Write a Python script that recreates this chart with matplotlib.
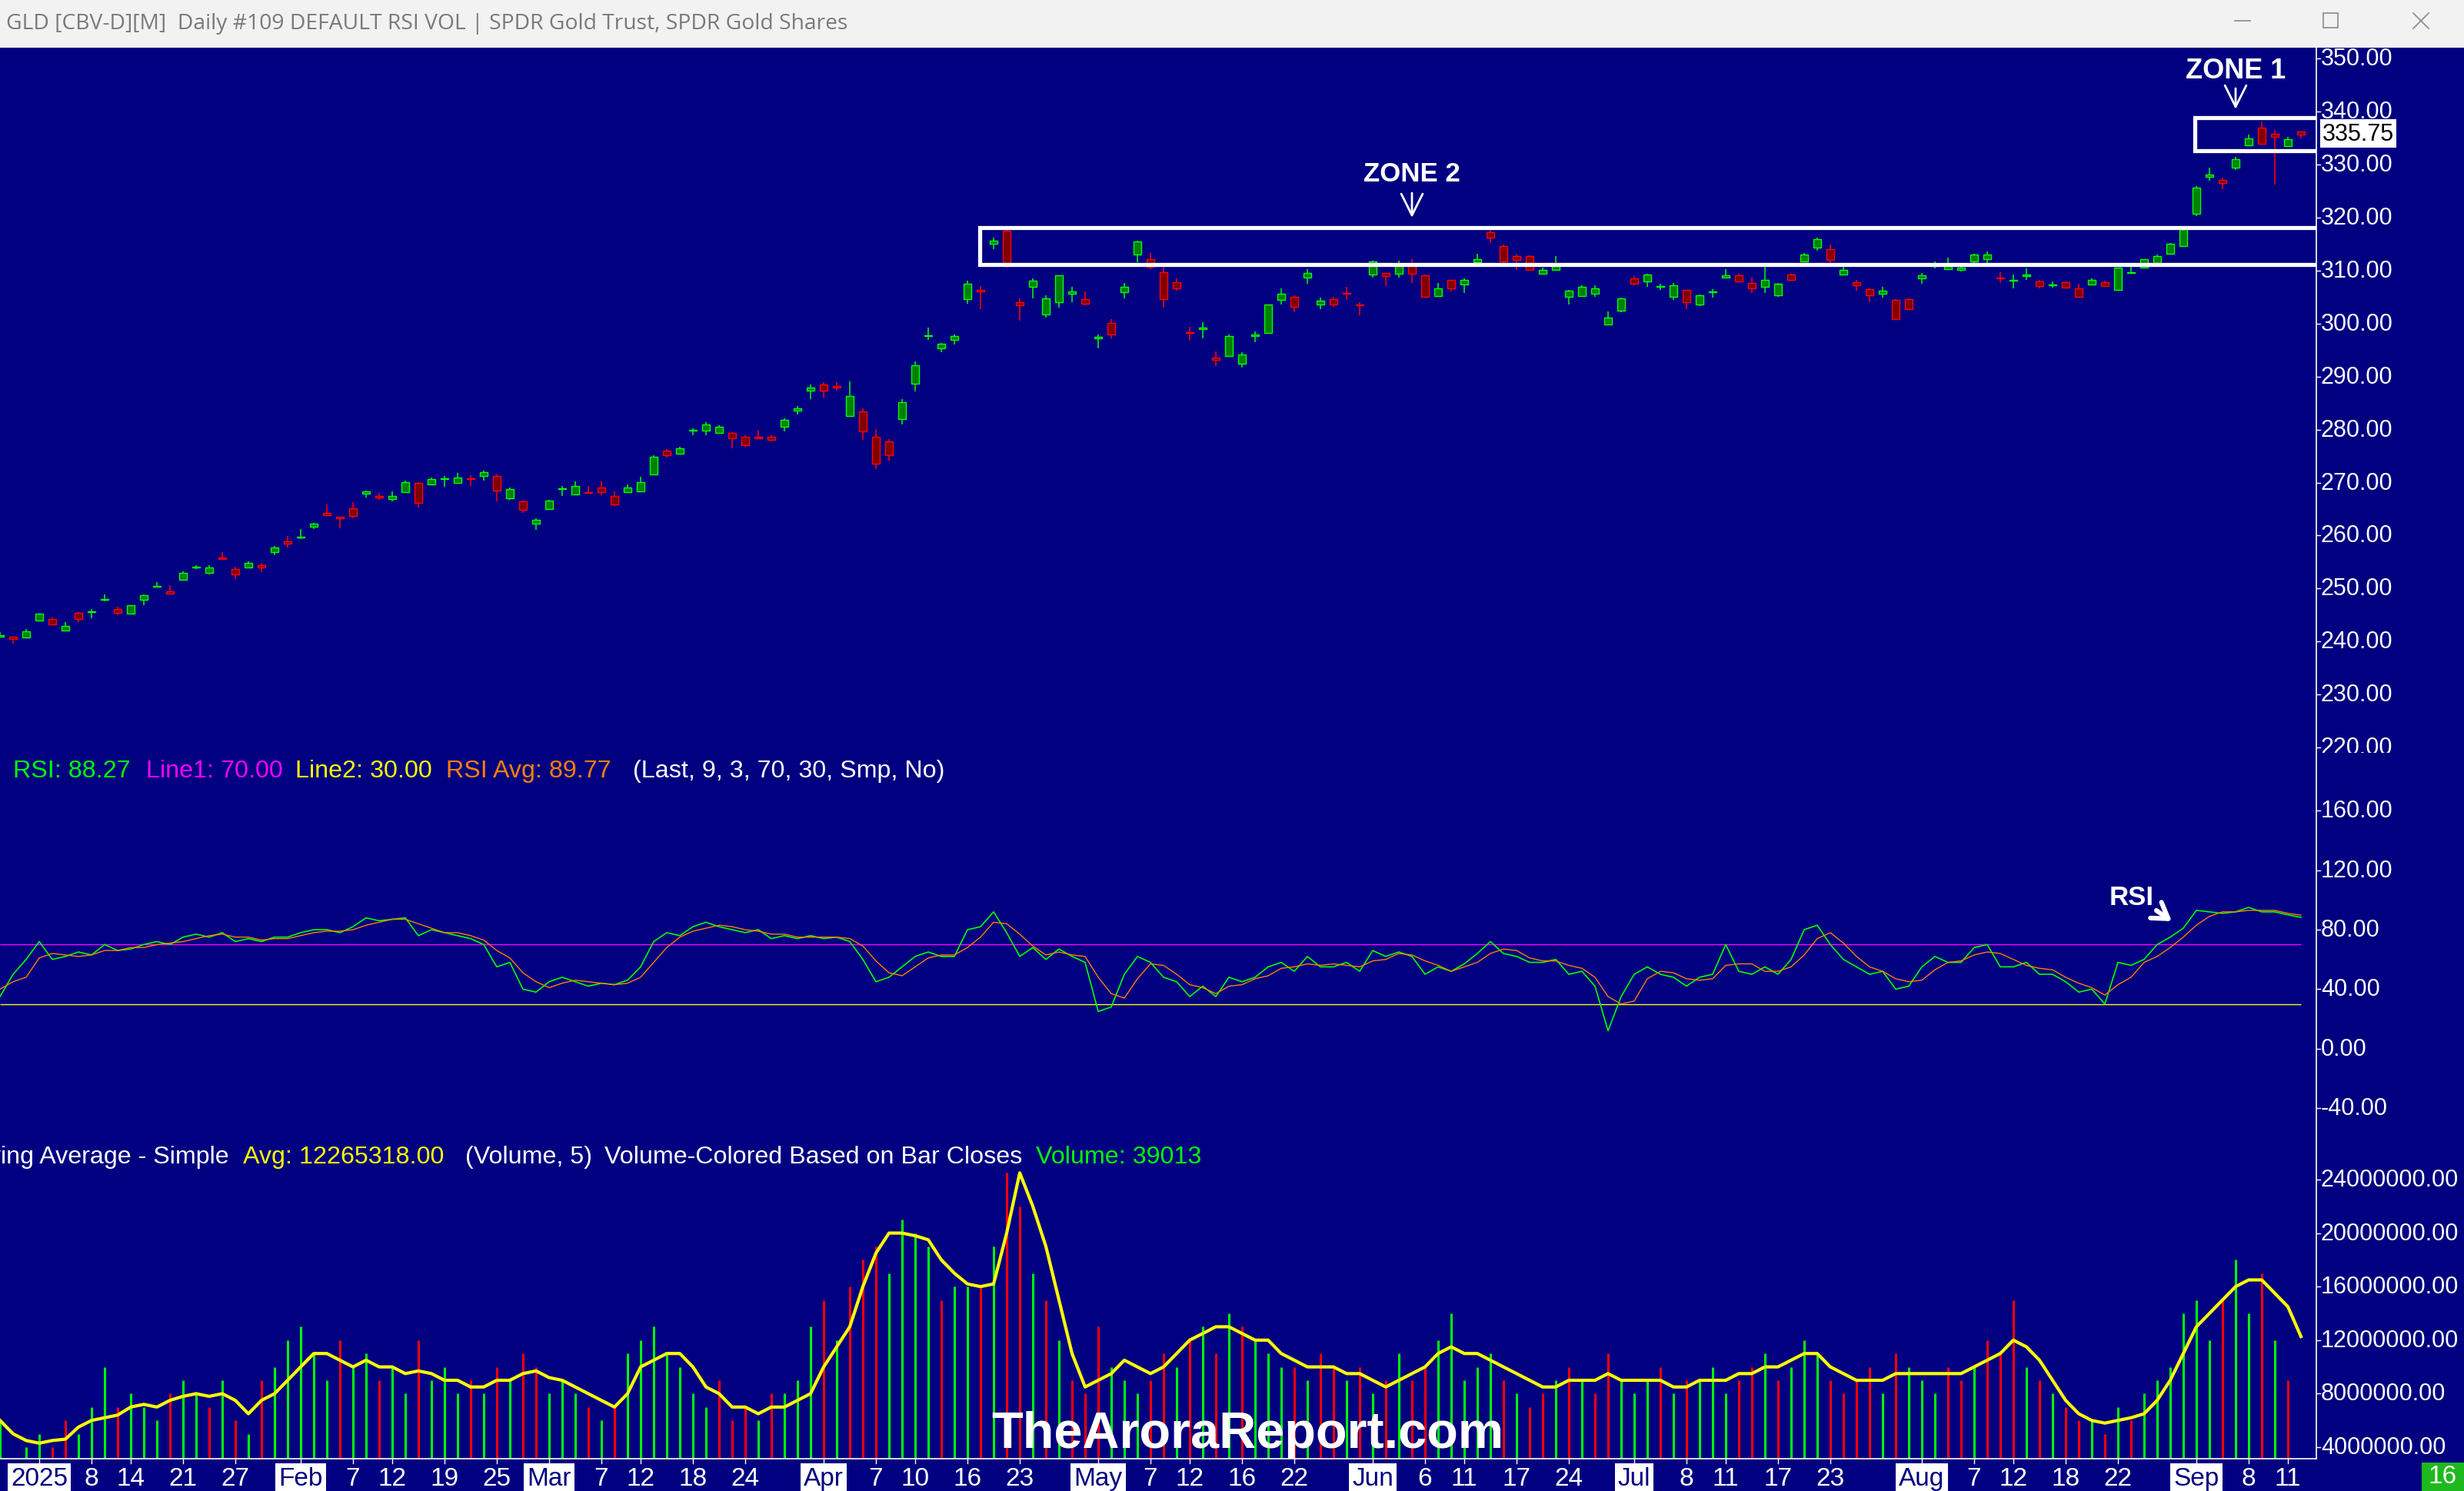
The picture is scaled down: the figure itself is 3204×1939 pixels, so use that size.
import numpy as np
import pandas as pd
import matplotlib
matplotlib.use("Agg")
import matplotlib.pyplot as plt
from matplotlib.patches import Rectangle, FancyArrowPatch
from matplotlib.lines import Line2D

W, H, DPI = 3204, 1940, 200

# ---------------- data ----------------
holidays = ["2025-01-01", "2025-01-09", "2025-01-20", "2025-02-17", "2025-04-18",
            "2025-05-26", "2025-06-19", "2025-07-04", "2025-09-01"]
dates = pd.bdate_range("2024-12-27", "2025-09-12")
dates = dates[~dates.isin(pd.to_datetime(holidays))]

open_ = [240.9, 240.9, 240.8, 244.0, 244.3, 242.1, 245.4, 245.5, 247.9, 246.1,
         245.3, 247.9, 250.3, 249.5, 251.7, 254.0, 253.0, 255.8, 253.7, 254.0,
         254.4, 256.9, 258.9, 259.6, 261.6, 264.2, 263.5, 265.1, 267.9, 267.5,
         266.9, 268.2, 269.9, 269.6, 270.6, 270.0, 270.7, 271.3, 271.3, 267.0,
         266.4, 262.3, 265.0, 268.8, 267.8, 268.2, 269.0, 267.4, 268.2, 268.3,
         271.5, 276.1, 275.4, 279.8, 279.8, 279.3, 279.3, 278.7, 278.6, 278.7,
         280.5, 283.6, 287.4, 288.5, 288.2, 282.6, 283.5, 278.7, 277.7, 282.0,
         288.7, 297.7, 295.4, 296.9, 304.6, 306.3, 315.0, 317.5, 304.1, 306.9,
         301.7, 304.1, 305.7, 304.6, 297.2, 300.1, 305.9, 313.1, 312.1, 309.7,
         307.8, 298.4, 298.9, 293.6, 293.9, 292.5, 297.7, 298.3, 304.5, 305.0,
         308.7, 303.6, 304.6, 305.7, 303.6, 309.2, 309.5, 309.4, 311.1, 309.1,
         305.2, 308.2, 307.4, 311.6, 317.2, 314.7, 312.7, 312.8, 309.4, 310.2,
         305.0, 305.2, 305.7, 299.9, 302.4, 308.5, 308.0, 306.9, 305.0, 306.3,
         303.6, 305.9, 308.7, 309.1, 307.6, 307.0, 305.3, 309.2, 311.8, 314.4,
         314.0, 309.2, 307.8, 306.5, 305.7, 304.5, 304.6, 308.6, 310.8, 310.3,
         310.2, 311.7, 312.2, 308.7, 308.1, 309.0, 307.9, 307.2, 307.8, 306.7,
         307.4, 307.8, 306.4, 309.6, 310.5, 311.4, 313.2, 314.7, 320.8, 327.7,
         327.1, 329.5, 333.7, 337.0, 335.8, 333.5, 336.2]
high = [241.8, 240.9, 242.4, 245.3, 244.6, 243.6, 245.5, 246.2, 248.9, 246.6,
        246.9, 248.9, 251.2, 250.7, 253.3, 254.4, 254.4, 256.9, 254.1, 255.1,
        254.7, 258.1, 259.9, 261.2, 262.4, 265.9, 263.6, 266.3, 268.5, 268.1,
        268.4, 270.3, 270.1, 271.0, 271.2, 271.8, 271.4, 272.2, 271.5, 269.0,
        266.6, 263.3, 266.7, 269.3, 270.2, 269.3, 270.2, 268.3, 269.7, 271.1,
        275.1, 276.3, 276.8, 280.3, 281.4, 280.8, 279.5, 278.9, 280.0, 278.9,
        282.1, 284.5, 288.5, 289.0, 288.9, 289.1, 284.0, 280.1, 278.2, 285.7,
        292.9, 299.2, 296.4, 297.9, 308.1, 307.1, 316.3, 317.8, 304.7, 308.5,
        305.3, 309.1, 307.0, 306.1, 297.9, 300.9, 307.6, 315.6, 313.3, 310.7,
        308.5, 299.4, 300.3, 294.7, 297.9, 294.6, 298.5, 303.6, 306.6, 305.3,
        310.3, 304.9, 305.1, 306.9, 304.0, 311.9, 309.6, 311.9, 312.2, 309.2,
        307.6, 308.3, 308.6, 313.2, 317.7, 314.9, 313.1, 312.9, 310.6, 312.7,
        306.3, 307.3, 307.2, 302.3, 304.9, 309.0, 309.4, 307.5, 307.7, 306.4,
        305.5, 306.5, 310.3, 309.4, 308.7, 310.8, 307.6, 309.4, 313.3, 316.2,
        314.9, 310.8, 308.2, 306.7, 307.0, 304.6, 304.7, 309.6, 311.8, 312.4,
        311.0, 313.2, 313.6, 309.7, 309.3, 310.4, 308.3, 308.0, 308.0, 307.5,
        308.5, 308.1, 310.6, 310.8, 312.2, 313.0, 315.2, 318.2, 325.9, 329.4,
        327.5, 331.5, 335.7, 338.2, 336.5, 335.2, 336.3]
low = [240.8, 239.6, 240.8, 244.0, 243.3, 241.9, 243.7, 244.4, 247.6, 245.0,
       245.3, 246.9, 250.2, 249.1, 251.7, 253.7, 252.7, 255.4, 251.8, 253.9,
       253.1, 256.3, 257.8, 259.4, 261.2, 263.9, 261.4, 263.2, 267.2, 266.8,
       266.4, 268.2, 265.3, 269.5, 269.2, 270.0, 269.4, 270.3, 266.4, 266.7,
       264.3, 261.1, 264.9, 267.5, 267.8, 268.1, 267.6, 265.6, 268.2, 268.3,
       271.4, 274.7, 275.4, 279.0, 279.0, 279.2, 276.5, 276.8, 278.2, 277.8,
       279.6, 282.9, 285.8, 286.0, 287.4, 282.4, 278.0, 272.6, 274.2, 281.0,
       287.2, 296.9, 294.6, 296.0, 303.8, 302.8, 314.0, 310.5, 300.6, 304.7,
       301.1, 303.0, 304.1, 303.5, 295.4, 297.2, 304.7, 311.6, 310.3, 303.0,
       306.2, 296.8, 297.2, 292.0, 293.8, 291.7, 296.5, 298.2, 303.6, 302.2,
       307.5, 302.8, 303.1, 304.5, 301.5, 308.7, 307.1, 308.7, 307.6, 305.0,
       305.1, 306.0, 305.8, 311.5, 315.2, 311.5, 310.2, 310.1, 309.2, 310.1,
       303.6, 305.1, 305.0, 299.8, 302.1, 307.3, 306.9, 306.3, 304.5, 302.8,
       303.3, 304.9, 308.6, 307.8, 305.8, 305.8, 305.1, 308.2, 311.7, 313.7,
       311.5, 309.1, 306.2, 304.0, 304.9, 300.8, 302.7, 307.5, 310.4, 310.2,
       309.9, 311.5, 311.4, 307.6, 306.6, 308.2, 306.6, 306.8, 306.7, 305.0,
       307.3, 307.0, 306.3, 309.5, 310.4, 311.3, 313.1, 314.5, 320.3, 326.9,
       325.4, 329.0, 333.5, 334.0, 326.3, 333.3, 335.0]
close = [241.2, 240.4, 241.9, 245.2, 243.3, 243.0, 244.3, 245.6, 248.0, 245.4,
         246.8, 248.7, 250.4, 249.1, 252.9, 254.1, 253.9, 255.5, 252.7, 254.9,
         254.0, 257.8, 258.4, 259.7, 262.3, 263.9, 263.2, 263.7, 268.4, 267.2,
         267.5, 270.1, 266.1, 270.6, 270.7, 270.9, 270.6, 272.0, 268.5, 268.8,
         264.8, 263.0, 266.6, 268.9, 269.4, 268.1, 268.2, 265.8, 269.0, 270.1,
         274.9, 275.1, 276.5, 279.9, 281.0, 280.6, 278.3, 277.1, 278.3, 278.1,
         281.8, 284.0, 288.0, 287.4, 288.0, 286.3, 279.6, 273.5, 275.1, 285.2,
         292.2, 297.8, 296.2, 297.7, 307.5, 306.0, 315.6, 311.4, 303.5, 308.1,
         304.7, 309.1, 306.0, 303.8, 297.5, 297.9, 306.9, 315.5, 310.7, 304.6,
         306.7, 298.2, 299.3, 293.1, 297.7, 294.1, 297.9, 303.6, 305.7, 303.1,
         309.6, 304.4, 303.6, 305.6, 303.5, 311.7, 309.0, 311.1, 309.4, 305.1,
         306.6, 306.6, 308.3, 312.1, 316.3, 311.7, 312.0, 310.2, 310.1, 310.8,
         306.2, 307.0, 306.7, 301.1, 304.7, 307.5, 309.2, 307.0, 307.3, 304.1,
         305.4, 306.1, 309.1, 307.9, 306.7, 308.2, 307.5, 308.3, 313.1, 316.0,
         312.0, 310.2, 307.3, 305.3, 306.2, 300.9, 302.8, 309.1, 311.1, 310.8,
         310.6, 313.1, 313.0, 308.5, 308.2, 309.3, 307.1, 307.3, 306.8, 305.1,
         308.3, 307.1, 310.5, 309.7, 312.1, 312.7, 315.0, 317.9, 325.6, 328.1,
         326.6, 331.1, 334.9, 334.0, 335.3, 334.8, 335.75]

rsi = [35, 50, 60, 72, 60, 62, 65, 63, 70, 66,
       67, 70, 72, 70, 75, 77, 75, 78, 72, 74,
       72, 75, 75, 78, 80, 80, 78, 82, 88, 86,
       87, 88, 76, 80, 78, 76, 74, 70, 55, 58,
       40, 38, 45, 48, 45, 42, 44, 43, 46, 55,
       72, 78, 76, 82, 85, 82, 80, 78, 80, 74,
       76, 74, 76, 74, 75, 72, 60, 45, 48, 55,
       62, 65, 62, 62, 80, 82, 92, 78, 62, 68,
       60, 67, 62, 58, 25, 28, 50, 62, 58, 48,
       45, 35, 42, 35, 48, 45, 48, 55, 58, 52,
       62, 55, 55, 58, 52, 66, 62, 65, 62, 50,
       55, 52, 57, 64, 72, 64, 62, 58, 58, 60,
       50, 52, 42, 12, 35, 50, 55, 50, 48, 42,
       48, 50, 70, 52, 50, 55, 50, 60, 80, 83,
       70, 60, 55, 50, 52, 40, 42, 55, 62, 58,
       58, 68, 70, 55, 55, 58, 50, 50, 45, 38,
       40, 30, 58, 56, 60, 70, 75, 81, 93, 92,
       91, 92, 95, 92, 92, 90, 88.27]
rsi_avg = [40, 45, 48, 61, 64, 63, 62, 63, 66, 66,
           68, 68, 70, 71, 72, 74, 76, 77, 75, 75,
           73, 74, 74, 76, 78, 79, 79, 80, 83, 85,
           87, 87, 84, 81, 78, 78, 76, 73, 66, 61,
           51, 45, 41, 44, 46, 45, 44, 43, 44, 48,
           58, 68, 75, 79, 81, 83, 82, 80, 79, 77,
           77, 75, 75, 75, 75, 74, 69, 59, 51, 49,
           55, 61, 63, 63, 68, 75, 85, 84, 77, 69,
           63, 65, 63, 62, 48, 37, 34, 47, 57, 56,
           50, 43, 41, 37, 42, 43, 47, 49, 54, 55,
           57, 56, 57, 56, 55, 59, 60, 64, 63, 59,
           56, 52, 55, 58, 64, 67, 66, 61, 59, 59,
           56, 54, 48, 35, 30, 32, 47, 52, 51, 47,
           46, 47, 56, 57, 57, 52, 52, 55, 63, 74,
           78, 71, 62, 55, 52, 47, 45, 46, 53, 58,
           59, 63, 65, 64, 60, 56, 54, 53, 48, 44,
           41, 36, 43, 48, 58, 62, 68, 75, 83, 89,
           92, 92, 93, 93, 93, 91, 89.77]

volume_m = [6, 3, 4, 5, 4, 6, 5, 7, 10, 7,
            8, 7, 6, 8, 9, 8, 7, 9, 6, 5,
            9, 10, 12, 13, 11, 9, 12, 10, 11, 9,
            10, 8, 12, 9, 10, 8, 9, 8, 10, 9,
            11, 10, 8, 9, 8, 7, 6, 7, 11, 12,
            13, 11, 10, 8, 7, 9, 6, 7, 6, 8,
            8, 9, 13, 15, 12, 16, 18, 19, 17, 21,
            20, 19, 15, 16, 16, 16, 19, 24.5, 22, 17,
            15, 12, 9, 8, 13, 10, 9, 8, 9, 11,
            10, 12, 13, 11, 14, 13, 12, 11, 10, 10,
            9, 11, 10, 9, 10, 8, 9, 11, 9, 10,
            12, 14, 9, 10, 11, 9, 8, 7, 8, 9,
            10, 9, 8, 11, 9, 8, 9, 10, 8, 9,
            9, 10, 8, 9, 10, 11, 9, 10, 12, 11,
            9, 8, 9, 10, 8, 11, 10, 9, 8, 10,
            9, 10, 12, 11, 15, 10, 9, 8, 7, 6,
            6, 5, 7, 6, 8, 9, 10, 14, 15, 12,
            15, 18, 14, 17, 12, 9, 0.039]
vol_ma_m = [6, 5, 4.5, 4.3, 4.5, 4.6, 5.5, 6, 6.2, 6.4,
            7, 7.2, 7, 7.5, 7.8, 8, 7.8, 8, 7.5, 6.5,
            7.5, 8, 9, 10, 11, 11, 10.5, 10, 10.5, 10,
            10, 9.5, 9.7, 9.5, 9, 9, 8.5, 8.5, 9, 9,
            9.5, 9.7, 9.2, 9, 8.5, 8, 7.5, 7, 8, 10,
            10.5, 11, 11, 10, 8.5, 8, 7, 7, 6.5, 7,
            7, 7.5, 8, 10, 11.5, 13, 16, 18.5, 20, 20,
            19.8, 19.5, 18, 17, 16.2, 16, 16.2, 20, 24.5, 22,
            19, 15, 11, 8.5, 9, 9.5, 10.5, 10, 9.5, 10,
            11, 12, 12.5, 13, 13, 12.5, 12, 12, 11, 10.5,
            10, 10, 10, 9.5, 9.5, 9, 8.5, 9, 9.5, 10,
            11, 11.5, 11, 11, 10.5, 10, 9.5, 9, 8.5, 8.5,
            9, 9, 9, 9.5, 9, 9, 9, 9, 8.5, 8.5,
            9, 9, 9, 9.5, 9.5, 10, 10, 10.5, 11, 11,
            10, 9.5, 9, 9, 9, 9.5, 9.5, 9.5, 9.5, 9.5,
            9.5, 10, 10.5, 11, 12, 11.5, 10.5, 9, 7.5, 6.5,
            6, 5.8, 6, 6.2, 6.5, 7.5, 9, 11, 13, 14,
            15, 16, 16.5, 16.5, 15.5, 14.5, 12.27]

tick_dates = ["2025-01-02", "2025-01-08", "2025-01-14", "2025-01-21", "2025-01-27",
              "2025-02-03", "2025-02-07", "2025-02-12", "2025-02-19", "2025-02-25",
              "2025-03-03", "2025-03-07", "2025-03-12", "2025-03-18", "2025-03-24",
              "2025-04-01", "2025-04-07", "2025-04-10", "2025-04-16", "2025-04-23",
              "2025-05-01", "2025-05-07", "2025-05-12", "2025-05-16", "2025-05-22",
              "2025-06-02", "2025-06-06", "2025-06-11", "2025-06-17", "2025-06-24",
              "2025-07-01", "2025-07-08", "2025-07-11", "2025-07-17", "2025-07-23",
              "2025-08-01", "2025-08-07", "2025-08-12", "2025-08-18", "2025-08-22",
              "2025-09-02", "2025-09-08", "2025-09-11"]
tick_labels = ["2025", "8", "14", "21", "27", "Feb", "7", "12", "19", "25",
               "Mar", "7", "12", "18", "24", "Apr", "7", "10", "16", "23",
               "May", "7", "12", "16", "22", "Jun", "6", "11", "17", "24",
               "Jul", "8", "11", "17", "23", "Aug", "7", "12", "18", "22",
               "Sep", "8", "11"]
boxed_labels = ["2025", "Feb", "Mar", "Apr", "May", "Jun", "Jul", "Aug", "Sep"]

price_ticks = [220, 230, 240, 250, 260, 270, 280, 290, 300, 310, 320, 330, 340, 350]
rsi_ticks = [-40, 0, 40, 80, 120, 160]
vol_ticks_m = [4, 8, 12, 16, 20, 24]

# ---------------- style ----------------
NAVY = "#000080"
GREEN = "#00FF00"
DKGREEN = "#008000"
RED = "#FF0000"
DKRED = "#800000"
SANS = ["Liberation Sans", "DejaVu Sans"]

o = np.array(open_); h = np.array(high); l = np.array(low); c = np.array(close)
N = len(c)
x = np.arange(N)
vol = np.array(volume_m) * 1e6
vma = np.array(vol_ma_m) * 1e6
XR = 3012 / 17.0  # right edge in bar units

fig = plt.figure(figsize=(W / DPI, H / DPI), dpi=DPI)
fig.patch.set_facecolor(NAVY)


def fx(px):
    return px / W


def fy(py):
    return 1 - py / H


def ftext(px, py, s, **kw):
    return fig.text(fx(px), fy(py), s, **kw)


def panel(top, bottom):
    ax = fig.add_axes([0, fy(bottom), fx(3012), (bottom - top) / H])
    ax.set_facecolor(NAVY)
    for s in ax.spines.values():
        s.set_visible(False)
    ax.set_xticks([]); ax.set_yticks([])
    ax.set_xlim(0, XR)
    lab = fig.add_axes([fx(3012), fy(bottom), fx(W - 3012), (bottom - top) / H])
    lab.set_facecolor(NAVY)
    lab.set_xlim(0, 1)
    lab.axis("off")
    return ax, lab


ax_p, lab_p = panel(63, 980)
ax_r, lab_r = panel(980, 1465)
ax_v, lab_v = panel(1465, 1898)

ax_p.set_ylim(218.99, 352.08)
ax_r.set_ylim(-51.9, 199.0)
ax_v.set_ylim(3.14e6, 28.02e6)
lab_p.set_ylim(ax_p.get_ylim())
lab_r.set_ylim(ax_r.get_ylim())
lab_v.set_ylim(ax_v.get_ylim())


def right_labels(lab, ticks, fmt):
    for t in ticks:
        lab.plot([0, 0.026], [t, t], color="white", lw=0.5, clip_on=True)
        lab.text(0.031, t, fmt(t), color="white", fontsize=11, family=SANS,
                 va="center", ha="left", clip_on=True)


right_labels(lab_p, price_ticks, lambda v: f"{v:.2f}")
right_labels(lab_r, rsi_ticks, lambda v: f"{v:.2f}")
right_labels(lab_v, [v * 1e6 for v in vol_ticks_m], lambda v: f"{v:.2f}")

# ---------------- candles ----------------
up = c >= o
edge = np.where(up, GREEN, RED)
fill = np.where(up, DKGREEN, DKRED)
ax_p.vlines(x, l, h, colors=edge, lw=0.55, zorder=2)
bot = np.minimum(o, c)
bh = np.maximum(np.abs(c - o), 0.15)
ax_p.bar(x, bh, bottom=bot, width=0.6, color=fill, edgecolor=edge, linewidth=0.5, zorder=3)

# zones
ax_p.add_patch(Rectangle((74.95, 311.2), XR - 74.95 + 2, 318.1 - 311.2, fill=False,
                         ec="white", lw=1.9, zorder=4))
ax_p.add_patch(Rectangle((167.9, 332.6), XR - 167.9 + 2, 338.9 - 332.6, fill=False,
                         ec="white", lw=1.9, zorder=4))

# ---------------- RSI ----------------
ax_r.hlines([70], 0, N - 1, color="#FF00FF", lw=0.5)
ax_r.hlines([30], 0, N - 1, color="#FFFF00", lw=0.5)
ax_r.plot(x, rsi, color=GREEN, lw=0.6)
ax_r.plot(x, rsi_avg, color="#FF8000", lw=0.5)

# ---------------- volume ----------------
prev = np.concatenate([[o[0]], c[:-1]])
vcol = np.where(c >= prev, GREEN, RED)
ax_v.vlines(x, 0, vol, colors=vcol, lw=1.1)
ax_v.plot(x, vma, color="#FFFF00", lw=1.5, solid_joinstyle="round")

# ---------------- date strip ----------------
ax_d = fig.add_axes([0, 0, fx(3012), (H - 1898) / H])
ax_d.set_facecolor(NAVY)
ax_d.axis("off")
ax_d.set_xlim(0, XR)
ax_d.set_ylim(0, 1)
pos = {d: i for i, d in enumerate(dates.strftime("%Y-%m-%d"))}
for d, s in zip(tick_dates, tick_labels):
    xi = pos[d]
    ax_d.plot([xi, xi], [1, 0.86], color="white", lw=0.5)
    if s in boxed_labels:
        ax_d.text(xi, 0.40, s, color=NAVY, fontsize=12, family=SANS, ha="center",
                  va="center", bbox=dict(boxstyle="square,pad=0.12", fc="white", ec="none"))
    else:
        ax_d.text(xi, 0.40, s, color="white", fontsize=12, family=SANS, ha="center",
                  va="center")

# frame lines
fig.add_artist(Line2D([fx(3012), fx(3012)], [fy(63), fy(1898)], color="white", lw=0.6))
fig.add_artist(Line2D([0, fx(3012)], [fy(1898), fy(1898)], color="white", lw=0.6))

# "16" box
fig.add_artist(Rectangle((fx(3149), fy(1940)), fx(55), 37 / H, fc="#1EB91E", ec="none"))
ftext(3176, 1921, "16", color="white", fontsize=12, family=SANS, ha="center", va="center")

# title bar
fig.add_artist(Rectangle((0, fy(63)), 1, 63 / H, fc="#F2F2F2", ec="none"))
ftext(8, 31, "GLD [CBV-D][M]  Daily #109 DEFAULT RSI VOL | SPDR Gold Trust, SPDR Gold Shares",
      color="#7A7A7A", fontsize=10.2, family=["Open Sans", "DejaVu Sans"], va="center", ha="left")
fig.add_artist(Line2D([fx(2906), fx(2926)], [fy(28), fy(28)], color="#8A8A8A", lw=0.6))
fig.add_artist(Rectangle((fx(3021), fy(37)), fx(19), 19 / H, fill=False, ec="#8A8A8A", lw=0.6))
fig.add_artist(Line2D([fx(3138), fx(3158)], [fy(18), fy(38)], color="#8A8A8A", lw=0.6))
fig.add_artist(Line2D([fx(3138), fx(3158)], [fy(38), fy(18)], color="#8A8A8A", lw=0.6))

# last price label
fig.add_artist(Rectangle((fx(3017), fy(193)), fx(99), 37 / H, fc="white", ec="none"))
ftext(3066, 175, "335.75", color="black", fontsize=11, family=SANS, ha="center", va="center")

# zone texts & arrows
ftext(1836, 227, "ZONE 2", color="white", fontsize=12.5, family=SANS, weight="bold",
      ha="center", va="center")
ftext(2907, 93, "ZONE 1", color="white", fontsize=13, family=SANS, weight="bold",
      ha="center", va="center")
ftext(2772, 1168, "RSI", color="white", fontsize=12.5, family=SANS, weight="bold",
      ha="center", va="center")


def farrow(x0, y0, x1, y1, lw, hl, hw):
    fig.add_artist(FancyArrowPatch(
        (fx(x0), fy(y0)), (fx(x1), fy(y1)), transform=fig.transFigure,
        arrowstyle=f"->,head_length={hl},head_width={hw}", color="white", lw=lw,
        mutation_scale=10, shrinkA=0, shrinkB=0))


farrow(1836, 252, 1836, 284, 1.0, 1.0, 0.5)
farrow(2907, 116, 2907, 143, 1.0, 1.0, 0.5)
farrow(2804, 1185, 2824, 1199, 2.2, 0.7, 0.45)

# legends
for px, s, col in [(17, "RSI: 88.27", GREEN), (190, "Line1: 70.00", "#FF00FF"),
                   (384, "Line2: 30.00", "#FFFF00"), (580, "RSI Avg: 89.77", "#FF8000"),
                   (823, "(Last, 9, 3, 70, 30, Smp, No)", "white")]:
    ftext(px, 1003, s, color=col, fontsize=11.6, family=SANS, va="center", ha="left")
ftext(298, 1505, "Moving Average - Simple", color="white", fontsize=11.6, family=SANS,
      va="center", ha="right")
for px, s, col in [(316, "Avg: 12265318.00", "#FFFF00"), (605, "(Volume, 5)", "white"),
                   (786, "Volume-Colored Based on Bar Closes", "white"),
                   (1347, "Volume: 39013", GREEN)]:
    ftext(px, 1505, s, color=col, fontsize=11.6, family=SANS, va="center", ha="left")

# watermark
ftext(1622, 1866, "TheAroraReport.com", color="white", fontsize=24, family=SANS,
      weight="bold", ha="center", va="center", zorder=10)

fig.savefig("out.png", dpi=DPI, facecolor=NAVY)
